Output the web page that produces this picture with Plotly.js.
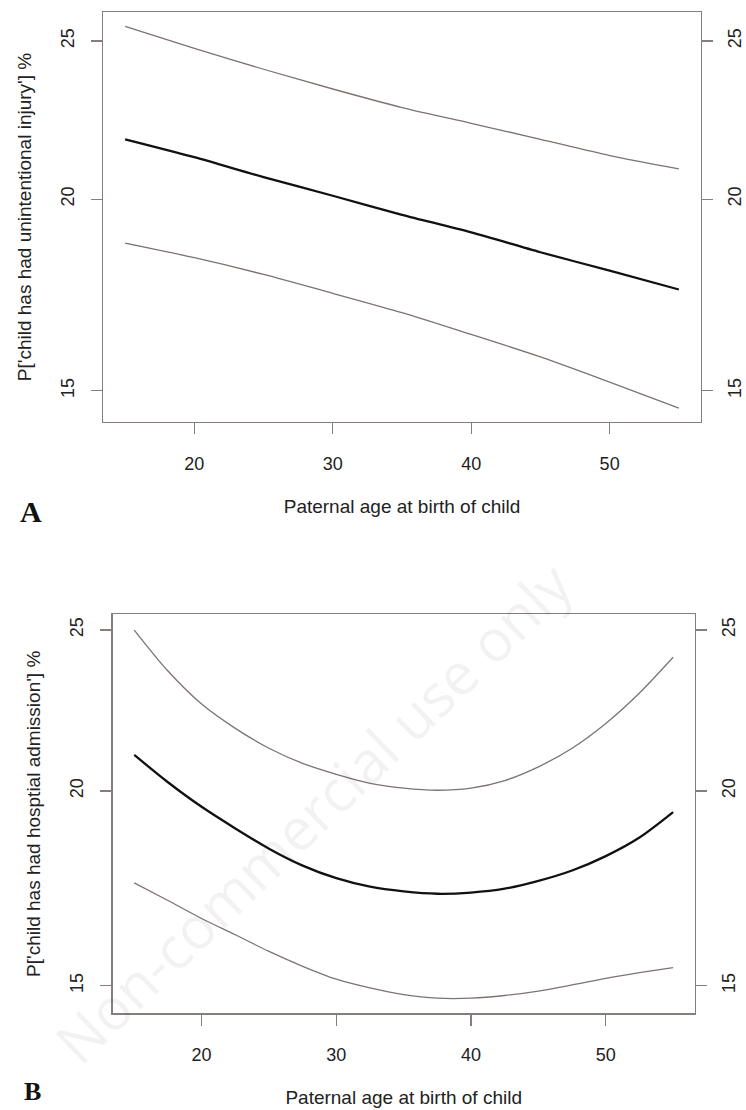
<!DOCTYPE html>
<html>
<head>
<meta charset="utf-8">
<script src="https://cdn.plot.ly/plotly-3.0.1.min.js"></script>
<style>html,body{margin:0;padding:0;background:#fff;}#chart{width:746px;height:1110px;}</style>
</head>
<body>
<div id="chart"></div>
<script>
// Panel A: unintentional injury (percent)
const agesA = [15, 20, 25, 30, 35, 40, 45, 50, 55];
const injuryFit   = [21.8, 21.25, 20.65, 20.1, 19.55, 19.05, 18.5, 18.0, 17.5];
const injuryUpper = [25.5, 24.75, 24.05, 23.4, 22.8, 22.3, 21.8, 21.3, 20.9];
const injuryLower = [18.75, 18.35, 17.9, 17.4, 16.9, 16.35, 15.8, 15.2, 14.6];

// Panel B: hospital admission (percent)
const agesB = [15, 17.5, 20, 22.5, 25, 27.5, 30, 32.5, 35, 37.5, 40, 42.5, 45, 47.5, 50, 52.5, 55];
const admitFit   = [21.05, 20.25, 19.55, 18.95, 18.4, 17.95, 17.62, 17.4, 17.28, 17.22, 17.25, 17.35, 17.55, 17.82, 18.2, 18.7, 19.4];
const admitUpper = [25.0, 23.65, 22.6, 21.85, 21.25, 20.8, 20.48, 20.22, 20.08, 20.02, 20.08, 20.3, 20.7, 21.25, 22.0, 22.95, 24.1];
const admitLower = [17.5, 17.05, 16.6, 16.2, 15.8, 15.45, 15.15, 14.95, 14.8, 14.72, 14.72, 14.78, 14.88, 15.02, 15.17, 15.3, 15.42];

const yTicks = [15, 20, 25];
const xTicks = [20, 30, 40, 50];

const xTitle = 'Paternal age at birth of child';
const yTitleA = "P['child has had unintentional injury'] %";
const yTitleB = "P['child has had hosptial admission'] %";

// y axis is on the logit (probability) scale, labelled in percent
const logit = p => Math.log(p / (100 - p));
const L = arr => arr.map(logit);

const boundColor = '#7e7371';
const axisColor = '#877d7b';
const font = 'Liberation Sans, Arial, sans-serif';

const line = (x, y, xa, ya, color, w) => ({
  x: x, y: L(y), xaxis: xa, yaxis: ya, type: 'scatter', mode: 'lines',
  line: {color: color, width: w, shape: 'spline', smoothing: 0.8},
  hoverinfo: 'skip', showlegend: false
});

const data = [
  line(agesA, injuryLower, 'x', 'y', boundColor, 1.3),
  line(agesA, injuryFit, 'x', 'y', '#111111', 2.3),
  line(agesA, injuryUpper, 'x', 'y3', boundColor, 1.3),
  line(agesB, admitLower, 'x2', 'y2', boundColor, 1.3),
  line(agesB, admitFit, 'x2', 'y2', '#111111', 2.3),
  line(agesB, admitUpper, 'x2', 'y4', boundColor, 1.3)
];

const tickFont = {family: font, size: 18, color: '#222'};
const titleFont = {family: font, size: 19, color: '#222'};

const xAxis = (domain, anchor) => ({
  domain: domain, anchor: anchor, range: [13.4, 56.6],
  tickvals: xTicks, ticktext: xTicks.map(String),
  showline: true, linecolor: axisColor, linewidth: 1.3, mirror: true,
  ticks: 'outside', ticklen: 11, tickwidth: 1.3, tickcolor: axisColor,
  ticklabelstandoff: 14,
  showgrid: false, zeroline: false, tickfont: tickFont,
  title: {text: xTitle, font: titleFont, standoff: 26}
});

const yAxis = (domain, anchor, range, title, side, overlay) => {
  const ax = {
    domain: domain, anchor: anchor, range: range, side: side,
    tickvals: L(yTicks), ticktext: yTicks.map(String), tickangle: -90,
    showline: true, linecolor: axisColor, linewidth: 1.3,
    ticks: 'outside', ticklen: 11, tickwidth: 1.3, tickcolor: axisColor,
    ticklabelstandoff: side === 'right' ? 6 : 10,
    showgrid: false, zeroline: false, tickfont: tickFont
  };
  if (title) ax.title = {text: title, font: titleFont, standoff: 21};
  if (overlay) ax.overlaying = overlay;
  return ax;
};

const rangeA = [-1.7916, -1.0458];
const rangeB = [-1.7838, -1.0705];
const domXA = [103 / 746, 701 / 746];
const domYA = [1 - 422 / 1110, 1 - 12 / 1110];
const domXB = [112.7 / 746, 694.7 / 746];
const domYB = [1 - 1013.3 / 1110, 1 - 614.3 / 1110];

const layout = {
  width: 746, height: 1110,
  margin: {l: 0, r: 0, t: 0, b: 0},
  paper_bgcolor: '#ffffff', plot_bgcolor: '#ffffff',
  font: {family: font},
  xaxis: xAxis(domXA, 'y'),
  yaxis: yAxis(domYA, 'x', rangeA, yTitleA, 'left'),
  yaxis3: yAxis(domYA, 'x', rangeA, null, 'right', 'y'),
  xaxis2: xAxis(domXB, 'y2'),
  yaxis2: yAxis(domYB, 'x2', rangeB, yTitleB, 'left'),
  yaxis4: yAxis(domYB, 'x2', rangeB, null, 'right', 'y2'),
  annotations: [
    {text: '<b>A</b>', xref: 'paper', yref: 'paper', x: 31 / 746, y: 1 - 512 / 1110,
     xanchor: 'center', yanchor: 'middle', showarrow: false,
     font: {family: 'Liberation Serif, Times New Roman, serif', size: 30, color: '#111'}},
    {text: '<b>B</b>', xref: 'paper', yref: 'paper', x: 32 / 746, y: 2 / 1110,
     xanchor: 'center', yanchor: 'bottom', showarrow: false,
     font: {family: 'Liberation Serif, Times New Roman, serif', size: 26, color: '#111'}},
    {text: 'Non-commercial use only', xref: 'paper', yref: 'paper', x: 312 / 746, y: 1 - 812 / 1110,
     xanchor: 'center', yanchor: 'middle', showarrow: false, textangle: -44,
     font: {family: 'Open Sans, Liberation Sans, sans-serif', size: 58, color: 'rgba(0,0,0,0.05)'}}
  ]
};

Plotly.newPlot('chart', data, layout, {staticPlot: true, displayModeBar: false});
</script>
</body>
</html>
